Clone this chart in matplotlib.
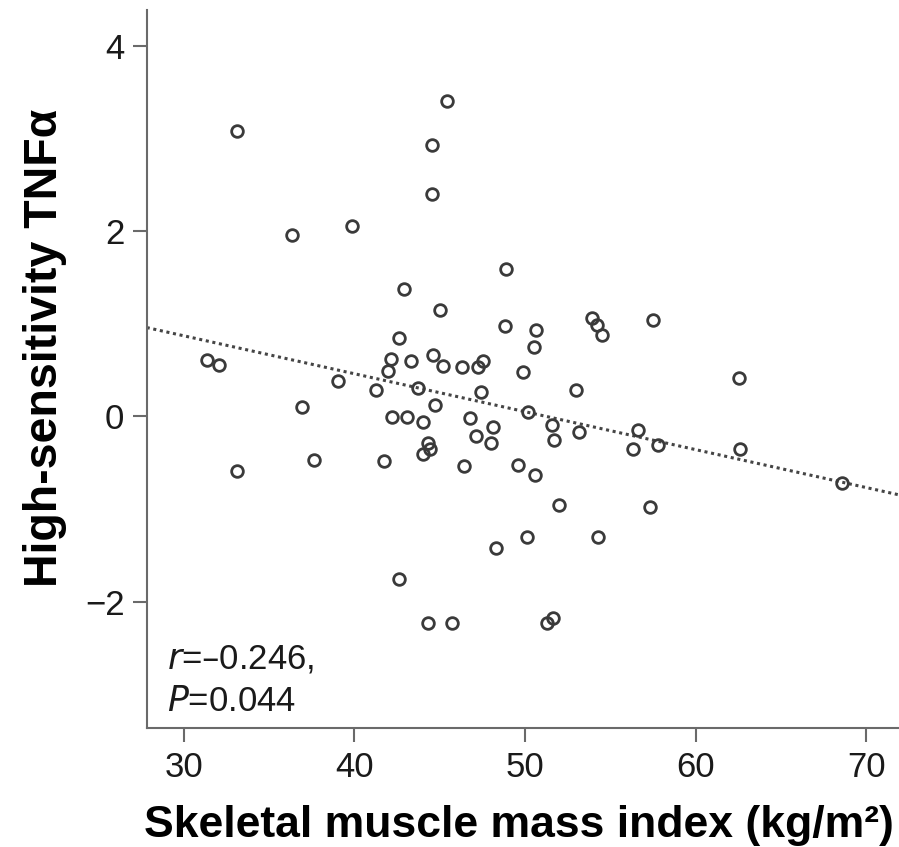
import matplotlib

matplotlib.use("Agg")
import matplotlib.pyplot as plt

# values
smi = [
    33.15, 36.36, 39.85, 45.45, 44.54, 44.54, 48.91, 42.92, 45.04, 48.82,
    42.62, 42.14, 43.33, 44.62, 45.20, 46.30, 47.23, 47.53, 49.91, 42.00,
    31.36, 32.06, 39.03, 41.29, 43.74, 47.41, 44.73, 36.94, 42.23, 43.11,
    44.01, 46.80, 48.13, 47.12, 48.00, 44.34, 44.46, 44.01, 33.13, 37.63,
    41.73, 46.41, 49.61, 50.63, 50.52, 53.93, 54.22, 54.52, 57.49, 62.56,
    52.99, 50.20, 51.61, 51.71, 53.19, 56.61, 56.32, 57.80, 62.58, 68.56,
    50.61, 52.00, 57.31, 42.62, 44.34, 45.71, 48.33, 50.14, 54.30, 51.28,
    51.63,
]
tnf = [
    3.08, 1.96, 2.06, 3.41, 2.93, 2.40, 1.59, 1.38, 1.15, 0.98,
    0.85, 0.62, 0.60, 0.66, 0.54, 0.53, 0.53, 0.60, 0.48, 0.49,
    0.61, 0.55, 0.38, 0.28, 0.31, 0.26, 0.12, 0.10, -0.01, -0.01,
    -0.06, -0.02, -0.12, -0.21, -0.29, -0.29, -0.35, -0.41, -0.59, -0.47,
    -0.48, -0.54, -0.52, 0.93, 0.75, 1.06, 0.99, 0.88, 1.04, 0.41,
    0.28, 0.05, -0.09, -0.26, -0.17, -0.15, -0.35, -0.31, -0.35, -0.72,
    -0.63, -0.96, -0.98, -1.76, -2.23, -2.23, -1.42, -1.30, -1.30, -2.23,
    -2.18,
]
fit_intercept = 2.101
fit_slope = -0.041
x_ticks = [30, 40, 50, 60, 70]
y_ticks = [-2, 0, 2, 4]
y_tick_labels = ["\u22122", "0", "2", "4"]

plt.rcParams["font.family"] = ["Liberation Sans", "DejaVu Sans"]

SPINE = "#6a6a6a"
MARK = "#3a3a3a"

fig = plt.figure(figsize=(8.99, 8.47), dpi=100)
ax = fig.add_axes([0.1632, 0.1401, 0.8368, 0.8481])

ax.plot(smi, tnf, linestyle="none", marker="o", ms=8.4, mew=2.0,
        mfc="none", mec=MARK, zorder=3)
ax.axline((0, fit_intercept), slope=fit_slope, color="#454545", lw=2.2,
          linestyle=(0, (1.0, 1.2)), zorder=2)

ax.set_xlim(27.84, 71.92)
ax.set_ylim(-3.37, 4.39)
ax.set_xticks(x_ticks)
ax.set_yticks(y_ticks)
ax.set_yticklabels(y_tick_labels)

for side in ("top", "right"):
    ax.spines[side].set_visible(False)
for side in ("left", "bottom"):
    ax.spines[side].set_color(SPINE)
    ax.spines[side].set_linewidth(1.5)

ax.tick_params(axis="both", direction="out", length=10, width=1.5,
               color=SPINE, labelsize=25, labelcolor="#1a1a1a", pad=6)

ax.text(29.03, -2.72, "$\\it{r}$=\u20130.246,", fontsize=25, color="#1a1a1a",
        va="baseline", ha="left")
ax.text(29.03, -3.18, "$\\it{P}$=0.044", fontsize=25, color="#1a1a1a",
        va="baseline", ha="left")

fig.text(0.577, 0.012, "Skeletal muscle mass index (kg/m\u00b2)",
         fontsize=32, fontweight="bold", ha="center", va="baseline")
fig.text(0.050, 0.589, "High-sensitivity TNF\u03b1", fontsize=33.5,
         fontweight="bold", rotation=90, ha="center", va="center")

fig.savefig("out.png", dpi=100)
plt.close(fig)
